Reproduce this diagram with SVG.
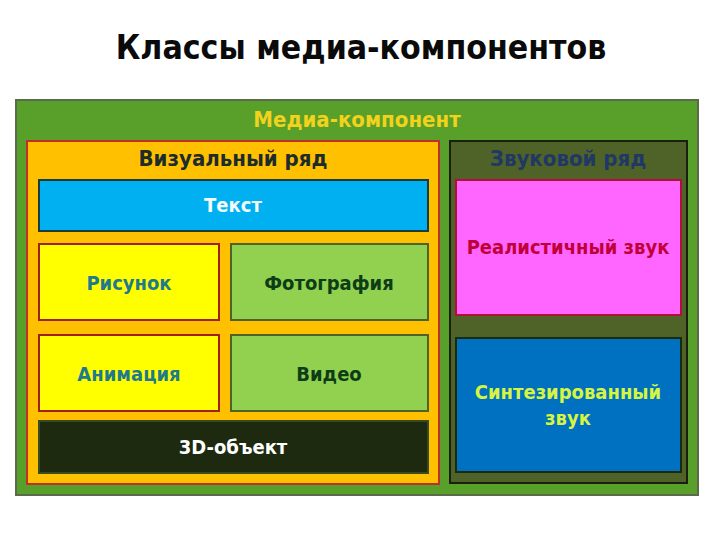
<svg xmlns="http://www.w3.org/2000/svg" width="720" height="540" viewBox="0 0 720 540">
<style>
text{font-family:"DejaVu Sans Condensed","DejaVu Sans","Liberation Sans",sans-serif;font-stretch:condensed;font-weight:bold;text-anchor:middle}
.t{font-size:20px}
.h{font-size:22px}
</style>
<rect width="720" height="540" fill="#ffffff"/>
<text x="361" y="59" style="font-size:33.5px" fill="#0a0a0a">Классы медиа-компонентов</text>
<g id="media">
<rect x="16" y="100" width="682" height="395" fill="#58a02a" stroke="#5a6a4a" stroke-width="2"/>
<text class="h" x="357" y="127" fill="#f2d21c">Медиа-компонент</text>
</g>
<g id="visual">
<rect x="27" y="141" width="412" height="343" fill="#ffc000" stroke="#c0302a" stroke-width="2"/>
<text class="h" x="233" y="166" fill="#1c2b2b">Визуальный ряд</text>
</g>
<g id="sound">
<rect x="450" y="141" width="237" height="342" fill="#4f6228" stroke="#1a2010" stroke-width="2"/>
<text class="h" x="568" y="166" fill="#1f3864">Звуковой ряд</text>
</g>
<g id="text-node">
<rect x="39" y="180" width="389" height="51" fill="#00b0f0" stroke="#1f3a3a" stroke-width="2"/>
<text class="t" x="233" y="212" fill="#f4fbff">Текст</text>
</g>
<g id="risunok">
<rect x="39" y="244" width="180" height="76" fill="#ffff00" stroke="#a02020" stroke-width="2"/>
<text class="t" x="129" y="290" fill="#1f7a8c">Рисунок</text>
</g>
<g id="foto">
<rect x="231" y="244" width="197" height="76" fill="#92d050" stroke="#4f6228" stroke-width="2"/>
<text class="t" x="329" y="290" fill="#0d3d17">Фотография</text>
</g>
<g id="anim">
<rect x="39" y="335" width="180" height="76" fill="#ffff00" stroke="#a02020" stroke-width="2"/>
<text class="t" x="129" y="381" fill="#1f7a8c">Анимация</text>
</g>
<g id="video">
<rect x="231" y="335" width="197" height="76" fill="#92d050" stroke="#4f6228" stroke-width="2"/>
<text class="t" x="329" y="381" fill="#0d3d17">Видео</text>
</g>
<g id="obj3d">
<rect x="39" y="421" width="389" height="52" fill="#1e2a10" stroke="#3a4a20" stroke-width="2"/>
<text class="t" x="233" y="454" fill="#ffffff">3D-объект</text>
</g>
<g id="real">
<rect x="456" y="180" width="225" height="135" fill="#ff66ff" stroke="#b0103a" stroke-width="2"/>
<text class="t" x="568" y="254" fill="#c0003a">Реалистичный звук</text>
</g>
<g id="synth">
<rect x="456" y="338" width="225" height="134" fill="#0070c0" stroke="#1a2a10" stroke-width="2"/>
<text class="t" x="568" y="399" fill="#d6f542">Синтезированный</text>
<text class="t" x="568" y="425" fill="#d6f542">звук</text>
</g>
<g id="connectors"/>
</svg>
